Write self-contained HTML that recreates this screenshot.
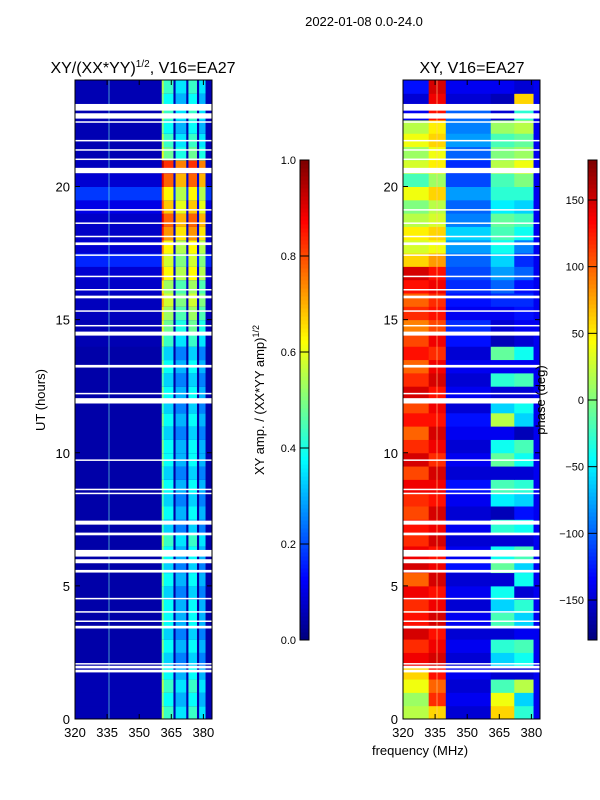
<!DOCTYPE html>
<html><head><meta charset="utf-8"><style>
body{margin:0;background:#fff;}
svg{display:block;font-family:"Liberation Sans","DejaVu Sans",sans-serif;}
</style></head><body>
<svg id="c" width="600" height="800"></svg>
<script>
// ---- data ----
const hours = [0,0.5,1,1.5,2,2.5,3,3.5,4,4.5,5,5.5,6,6.5,7,7.5,8,8.5,9,9.5,10,10.5,11,11.5,12,12.5,13,13.5,14,14.5,15,15.5,16,16.5,17,17.5,18,18.5,19,19.5,20,20.5,21,21.5,22,22.5,23,23.5];
const ampBackground = [0.05,0.05,0.05,0.05,0.04,0.04,0.04,0.04,0.04,0.04,0.04,0.04,0.04,0.04,0.04,0.04,0.04,0.04,0.04,0.04,0.04,0.04,0.04,0.04,0.04,0.04,0.04,0.04,0.05,0.05,0.06,0.06,0.07,0.08,0.16,0.08,0.07,0.07,0.1,0.18,0.08,0.06,0.05,0.05,0.05,0.05,0.05,0.05];
const ampBand = [0.4,0.35,0.4,0.35,0.3,0.35,0.3,0.35,0.35,0.3,0.35,0.3,0.35,0.4,0.3,0.35,0.3,0.35,0.3,0.35,0.35,0.3,0.35,0.3,0.35,0.3,0.35,0.3,0.4,0.45,0.5,0.55,0.5,0.6,0.55,0.6,0.7,0.75,0.65,0.6,0.75,0.8,0.45,0.4,0.35,0.4,0.35,0.4];
const phaseSegEdges = [320,332,340,361,372,381,384];
const phaseA = [20,10,40,60,140,120,150,130,120,140,100,150,140,120,130,110,120,140,110,150,120,100,130,110,150,120,100,130,110,90,120,100,130,150,60,30,50,20,0,40,-20,30,10,40,20,-140,-150,-130];
const phaseB = [60,120,100,130,150,140,130,150,140,130,150,140,130,150,140,150,130,140,150,120,140,150,130,140,130,150,140,120,140,110,130,120,140,130,80,40,60,30,20,60,10,50,40,60,50,130,140,150];
const phaseC = [-150,-140,-150,-140,-150,-140,-150,-140,-150,-140,-150,-130,-140,-150,-140,-150,-140,-130,-150,-140,-150,-140,-130,-150,-140,-150,-140,-150,-130,-120,-140,-130,-120,-110,-100,-80,-60,-90,-100,-80,-110,-120,-100,-80,-90,-100,-150,-140];
const phaseD = [60,40,-20,-150,-60,-30,-150,-20,-60,-40,-150,-10,-40,-150,-30,-160,-50,-20,-150,-10,-40,-140,20,-60,-150,-30,-140,-10,-160,-150,-140,-120,-100,-80,-60,-40,-20,-10,-50,-30,-20,20,0,-20,10,-150,-160,-140];
const phaseE = [-30,-60,20,-150,-40,-20,-140,-60,-30,-150,-40,-60,-20,-150,-40,-130,-60,-30,-150,-40,-20,-160,-60,-40,-150,-20,-140,-40,-150,-140,-130,-120,-130,-100,-120,-90,-40,-20,-60,-30,0,40,10,-10,20,-30,60,-150];
const gaps = [[1.75,1.85],[1.9,2.0],[2.05,2.1],[3.4,3.5],[3.65,3.7],[4.0,4.05],[4.5,4.55],[5.5,5.6],[5.85,6.0],[6.1,6.35],[6.9,7.0],[7.3,7.45],[8.45,8.5],[8.6,8.65],[9.7,9.75],[11.85,12.05],[12.2,12.25],[13.2,13.3],[14.4,14.55],[14.75,14.8],[15.3,15.35],[15.8,15.9],[16.1,16.15],[16.6,16.65],[17.4,17.45],[17.8,17.9],[18.1,18.15],[18.6,18.65],[19.1,19.15],[20.5,20.7],[21.0,21.05],[21.35,21.4],[21.7,21.75],[22.4,22.45],[22.55,22.75],[22.85,23.1]];
const freqTicks = [320,335,350,365,380];
const timeTicks = [0,5,10,15,20];
const ampTicks = [0,0.2,0.4,0.6,0.8,1.0];
const phaseTicks = [-150,-100,-50,0,50,100,150];

// ---- helpers ----
const NS="http://www.w3.org/2000/svg";
const svg=document.getElementById('c');
function el(tag,at,parent){const e=document.createElementNS(NS,tag);for(const k in at)e.setAttribute(k,at[k]);(parent||svg).appendChild(e);return e;}
function jet(v){v=Math.max(0,Math.min(1,v));
 const r=Math.max(0,Math.min(1,1.5-Math.abs(4*v-3)));
 const g=Math.max(0,Math.min(1,1.5-Math.abs(4*v-2)));
 const b=Math.max(0,Math.min(1,1.5-Math.abs(4*v-1)));
 return `rgb(${Math.round(r*255)},${Math.round(g*255)},${Math.round(b*255)})`;}
const Y0=719,Y1=80;
function yT(t){return Y0-(t/24)*(Y0-Y1);}
function xF(f,x0){return x0+(f-320)*2.14;}
const H=0.5;

function panel(x0,name){
 const g=el('g',{},svg);
 
 
 return g;
}
// left panel
const gL=panel(75,'amplitude-heatmap');
hours.forEach((t,i)=>{
 const y=yT(t+H),h=yT(t)-yT(t+H);
 let r=el('rect',{x:75,y:y,width:137,height:h+0.5,fill:jet(ampBackground[i])},gL);
 
 
 const subs=[[361,366],[367,372],[373,377],[378,381]];
 subs.forEach((s,j)=>{
  const v=ampBand[i]+(j%2?-0.05:0.03);
  let c=el('rect',{x:xF(s[0],75),y:y,width:xF(s[1],75)-xF(s[0],75),height:h+0.5,fill:jet(v)},gL);
  
  
 });
 el('rect',{x:xF(361,75)-1,y:y,width:2,height:h+0.5,fill:jet(ampBand[i]+0.15)},gL);
});
el('line',{x1:109,y1:80,x2:109,y2:719,stroke:'#7fd',"stroke-width":1,opacity:0.6},gL);
// right panel
const gR=panel(403,'phase-heatmap');
const phaseSeries=[phaseA,phaseB,phaseC,phaseD,phaseE,phaseE];
hours.forEach((t,i)=>{
 const y=yT(t+H),h=yT(t)-yT(t+H);
 for(let j=0;j<6;j++){
  const v=(j==5?-140:phaseSeries[j][i]);
  const x1=xF(phaseSegEdges[j],403),x2=xF(phaseSegEdges[j+1],403);
  let c=el('rect',{x:x1,y:y,width:x2-x1+0.5,height:h+0.5,fill:jet((v+180)/360)},gR);
  
  
 }
});
el('line',{x1:437,y1:80,x2:437,y2:719,stroke:'#fc8',"stroke-width":1,opacity:0.6},gR);
// gaps
[75,403].forEach(x0=>{
 gaps.forEach(gp=>{
  const y=yT(gp[1]),h=Math.max(1.5,yT(gp[0])-yT(gp[1]));
  let r=el('rect',{x:x0,y:y,width:137,height:h,fill:'#fff'});
  
  
 });
});
// axes frames and ticks
function frame(x0){
 el('rect',{x:x0,y:80,width:137,height:639,fill:'none',stroke:'#000',"stroke-width":1});
 freqTicks.forEach(f=>{const x=xF(f,x0);
  el('line',{x1:x,y1:719,x2:x,y2:714,stroke:'#000'});el('line',{x1:x,y1:80,x2:x,y2:85,stroke:'#000'});
  const t=el('text',{x:x,y:737,"text-anchor":"middle","font-size":13});t.textContent=f;
  });
 timeTicks.forEach(v=>{const y=yT(v);
  el('line',{x1:x0,y1:y,x2:x0+5,y2:y,stroke:'#000'});el('line',{x1:x0+137,y1:y,x2:x0+132,y2:y,stroke:'#000'});
  const t=el('text',{x:x0-5,y:y+5,"text-anchor":"end","font-size":13});t.textContent=v;
  });
}
frame(75);frame(403);
// colorbars
function cbar(x0,ticks,lo,hi,name){
 const g=el('g',{});
 for(let k=0;k<120;k++){el('rect',{x:x0,y:640-(k+1)*4,width:9,height:4.5,fill:jet(k/119)},g);}
 el('rect',{x:x0,y:160,width:9,height:480,fill:'none',stroke:'#000'},g);
 ticks.forEach(v=>{const y=640-(v-lo)/(hi-lo)*480;
  el('line',{x1:x0,y1:y,x2:x0+9,y2:y,stroke:'#000'},g);
  const t=el('text',{x:x0-4,y:y+4,"text-anchor":"end","font-size":11},g);
  t.textContent=(name=='amp-colorbar'?v.toFixed(1):String(v).replace('-','\u2212'));
  });
}
cbar(300,ampTicks,0,1,'amp-colorbar');
cbar(588,phaseTicks,-180,180,'phase-colorbar');
// texts
function txt(s,at,name){const t=el('text',at);t.innerHTML=s;return t;}
txt('2022-01-08 0.0-24.0',{x:364,y:26,"text-anchor":"middle","font-size":13},'figure-title');
txt('XY/(XX*YY)<tspan font-size="10" dy="-6">1/2</tspan><tspan dy="6">, V16=EA27</tspan>',{x:143,y:73,"text-anchor":"middle","font-size":16},'left-panel-title');
txt('XY, V16=EA27',{x:472,y:73,"text-anchor":"middle","font-size":16},'right-panel-title');
txt('UT (hours)',{x:45,y:400,"text-anchor":"middle","font-size":13,transform:"rotate(-90 45 400)"},'y-axis-title');
txt('frequency (MHz)',{x:420,y:755,"text-anchor":"middle","font-size":13},'x-axis-title');
txt('XY amp. / (XX*YY amp)<tspan font-size="9" dy="-5">1/2</tspan>',{x:264,y:400,"text-anchor":"middle","font-size":13,transform:"rotate(-90 264 400)"},'amp-colorbar-label');
txt('phase (deg)',{x:545,y:400,"text-anchor":"middle","font-size":13,transform:"rotate(-90 545 400)"},'phase-colorbar-label');
</script>
</body></html>
